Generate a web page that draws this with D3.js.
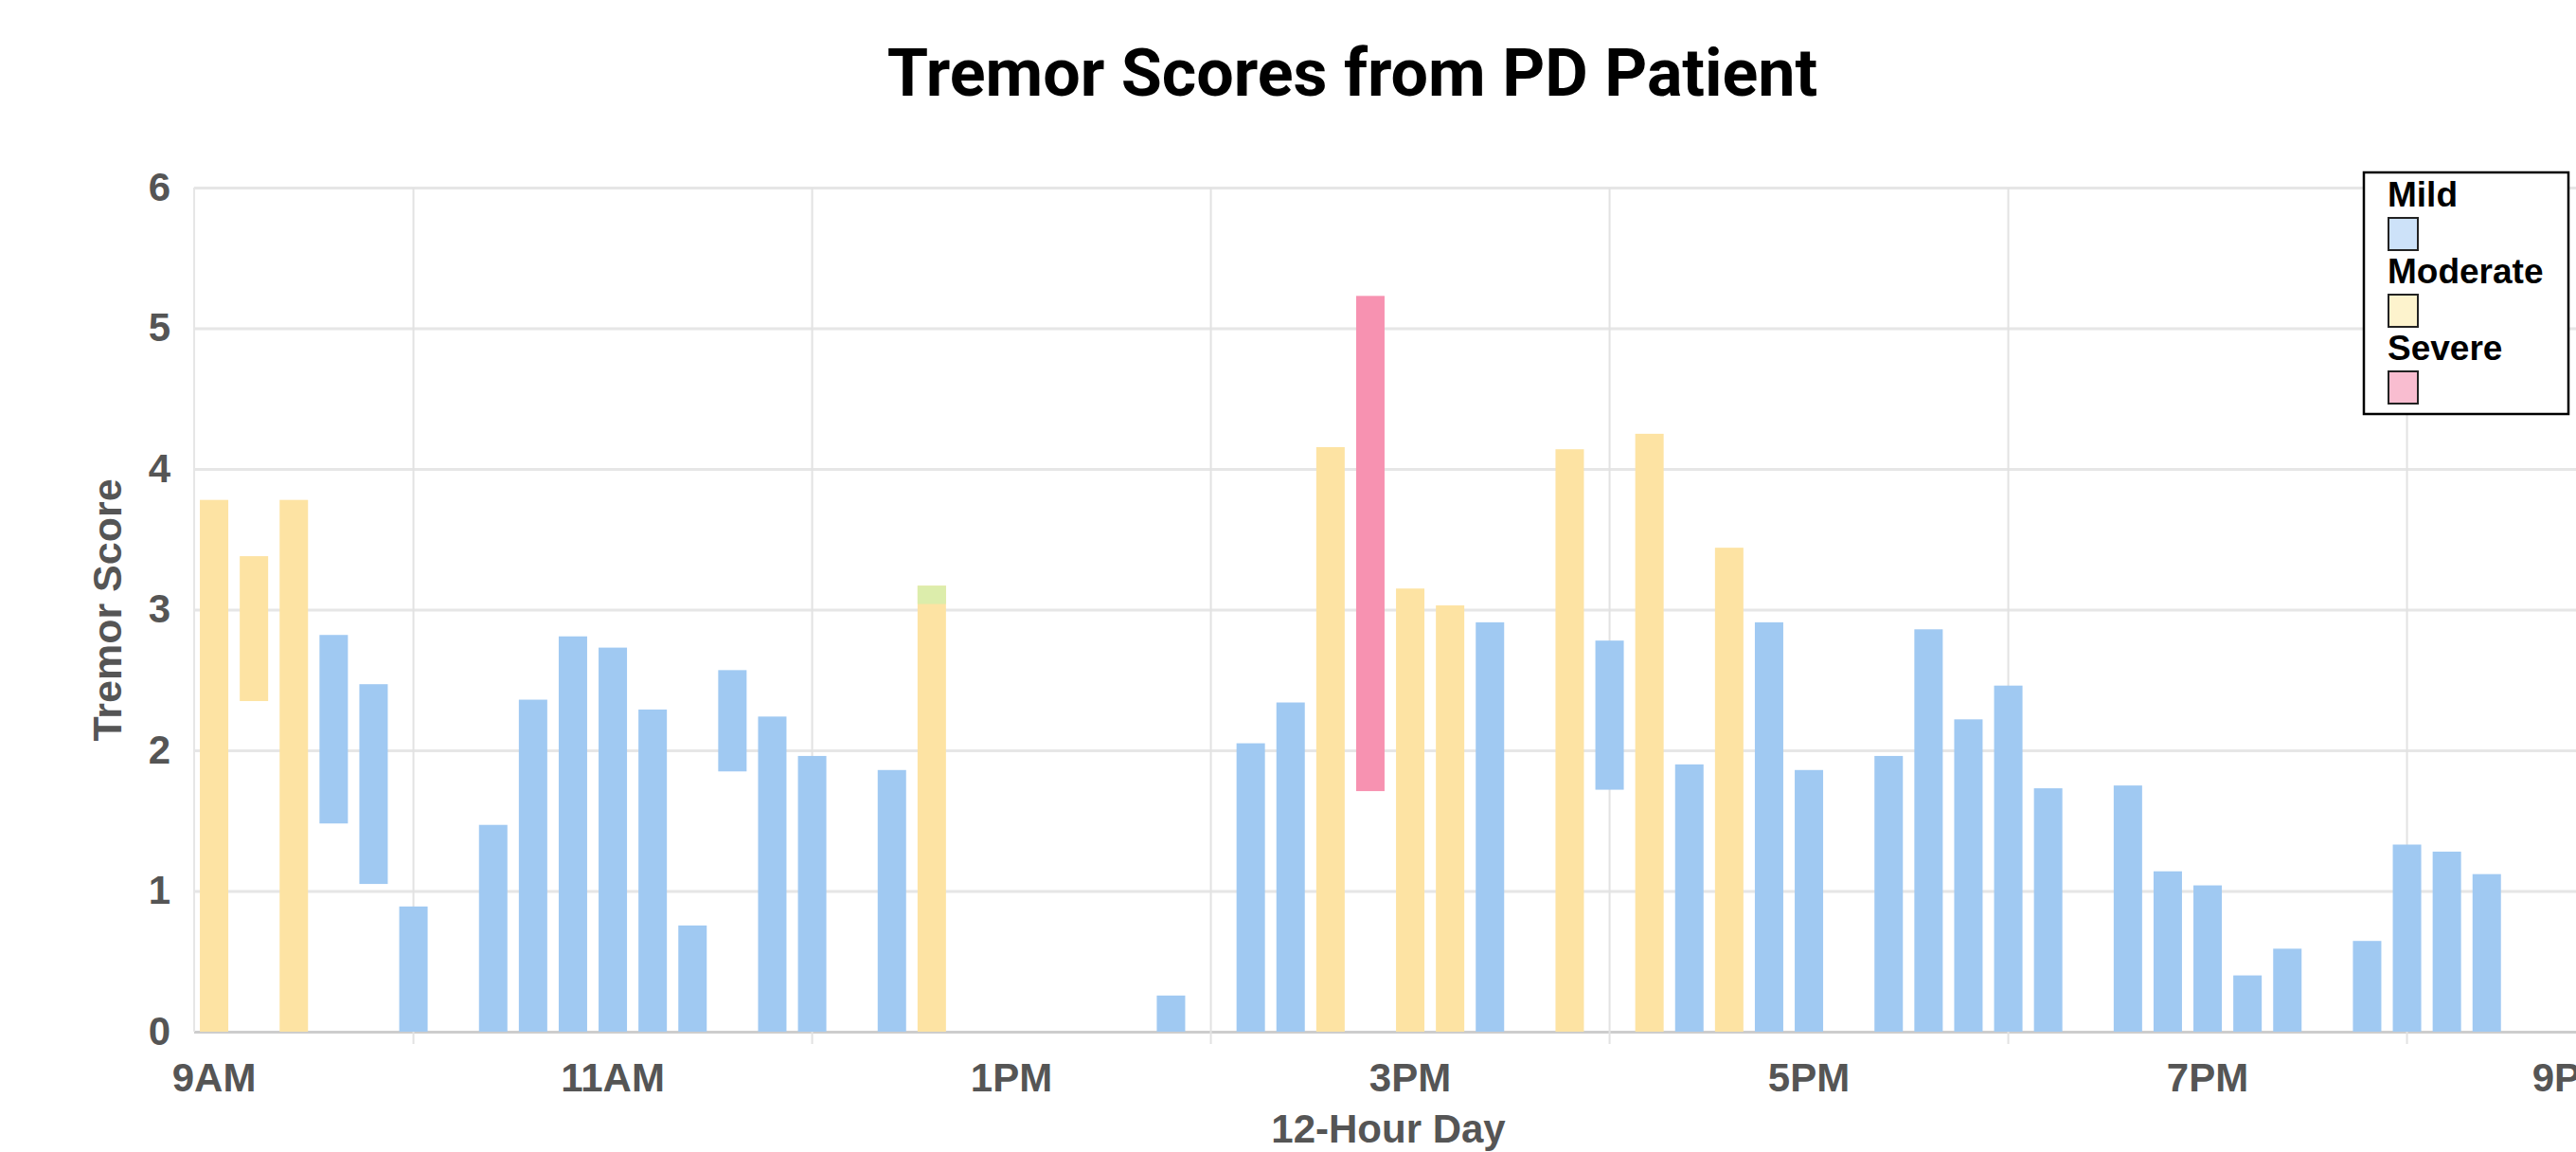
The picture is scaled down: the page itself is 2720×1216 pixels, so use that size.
<!DOCTYPE html>
<html>
<head>
<meta charset="utf-8">
<script src="https://cdn.jsdelivr.net/npm/d3@7/dist/d3.min.js"></script>
<style>
  body { margin: 0; background: #fff; overflow: hidden; }
</style>
</head>
<body>
<div id="chart"></div>
<script>
// readings every 12 minutes, each one a score range and a severity
var times = ["9:00", "9:12", "9:24", "9:36", "9:48", "10:00", "10:24", "10:36", "10:48", "11:00",
  "11:12", "11:24", "11:36", "11:48", "12:00", "12:24", "12:36", "13:48", "14:12", "14:24",
  "14:36", "14:48", "15:00", "15:12", "15:24", "15:48", "16:00", "16:12", "16:24", "16:36",
  "16:48", "17:00", "17:24", "17:36", "17:48", "18:00", "18:12", "18:36", "18:48", "19:00",
  "19:12", "19:24", "19:48", "20:00", "20:12", "20:24"];
var lows = [0, 2.35, 0, 1.48, 1.05, 0, 0, 0, 0, 0,
  0, 0, 1.85, 0, 0, 0, 0, 0, 0, 0,
  0, 1.71, 0, 0, 0, 0, 1.72, 0, 0, 0,
  0, 0, 0, 0, 0, 0, 0, 0, 0, 0,
  0, 0, 0, 0, 0, 0];
var highs = [3.78, 3.38, 3.78, 2.82, 2.47, 0.89, 1.47, 2.36, 2.81, 2.73,
  2.29, 0.755, 2.57, 2.24, 1.96, 1.86, 3.17, 0.257, 2.05, 2.34,
  4.155, 5.23, 3.15, 3.03, 2.91, 4.14, 2.78, 4.25, 1.90, 3.44,
  2.91, 1.86, 1.96, 2.86, 2.22, 2.46, 1.73, 1.75, 1.14, 1.04,
  0.40, 0.59, 0.645, 1.33, 1.28, 1.12];
var levels = ["Moderate", "Moderate", "Moderate", "Mild", "Mild", "Mild", "Mild", "Mild", "Mild", "Mild",
  "Mild", "Mild", "Mild", "Mild", "Mild", "Mild", "Moderate", "Mild", "Mild", "Mild",
  "Moderate", "Severe", "Moderate", "Moderate", "Mild", "Moderate", "Mild", "Moderate", "Mild", "Moderate",
  "Mild", "Mild", "Mild", "Mild", "Mild", "Mild", "Mild", "Mild", "Mild", "Mild",
  "Mild", "Mild", "Mild", "Mild", "Mild", "Mild"];

// the little greenish cap where two readings overlap
var overlapTimes = ["12:36"];
var overlapLows = [3.04];
var overlapHighs = [3.17];

var levelNames = ["Mild", "Moderate", "Severe"];
var levelColors = ["#a0c9f2", "#fde3a3", "#f792b1"];
var swatchColors = ["#cde2f9", "#fdf3cd", "#f9bdd0"];

var yTicks = [0, 1, 2, 3, 4, 5, 6];
var gridHours = [10, 12, 14, 16, 18, 20];
var labelHours = [9, 11, 13, 15, 17, 19, 21];
var tickLabels = ["9AM", "11AM", "1PM", "3PM", "5PM", "7PM", "9PM"];

var svgWidth = 2760;
var svgHeight = 1216;

var margin = {
  top: 198,
  right: 0,
  bottom: 127,
  left: 205
};

var width = svgWidth - margin.left - margin.right;
var height = svgHeight - margin.top - margin.bottom;

var pxPerHour = 210.5;
var barWidth = 30;

function toHours(t) {
  var p = t.split(":");
  return +p[0] + (+p[1]) / 60;
}

var bars = times.map(function (t, i) {
  return { h: toHours(t), lo: lows[i], hi: highs[i], level: levels[i] };
});
var overlaps = overlapTimes.map(function (t, i) {
  return { h: toHours(t), lo: overlapLows[i], hi: overlapHighs[i] };
});

var svg = d3.select("#chart")
  .append("svg")
  .attr("width", svgWidth)
  .attr("height", svgHeight);

var chartGroup = svg.append("g")
  .attr("transform", `translate(${margin.left}, ${margin.top})`);

var xScale = d3.scaleLinear()
  .domain([8.9, 8.9 + width / pxPerHour])
  .range([0, width]);

var yScale = d3.scaleLinear()
  .domain([0, 6])
  .range([height, 0]);

var color = d3.scaleOrdinal().domain(levelNames).range(levelColors);

// horizontal grid + y labels
var yAxis = chartGroup.append("g")
  .call(d3.axisLeft(yScale)
    .tickValues(yTicks)
    .tickFormat(d3.format("d"))
    .tickSize(-width)
    .tickPadding(25));
yAxis.select(".domain").remove();
yAxis.selectAll("line")
  .attr("stroke", d => d === 0 ? "#cdcdcd" : "#e6e6e6")
  .attr("stroke-width", 3);
yAxis.selectAll("text")
  .attr("fill", "#555")
  .style("font-family", "'Liberation Sans', Arial, sans-serif")
  .style("font-weight", "bold")
  .style("font-size", "42px");

// left edge of the plot
chartGroup.append("line")
  .attr("x1", 0).attr("x2", 0)
  .attr("y1", 0).attr("y2", height)
  .attr("stroke", "#e6e6e6")
  .attr("stroke-width", 2);

// vertical grid at even hours, with a small tick under the baseline
chartGroup.selectAll(".vgrid")
  .data(gridHours)
  .enter()
  .append("line")
  .attr("class", "vgrid")
  .attr("x1", d => xScale(d)).attr("x2", d => xScale(d))
  .attr("y1", 0).attr("y2", height + 13)
  .attr("stroke", "#e2e2e2")
  .attr("stroke-width", 2);

// bars
chartGroup.selectAll(".bar")
  .data(bars)
  .enter()
  .append("rect")
  .attr("class", "bar")
  .attr("x", d => xScale(d.h) - barWidth / 2)
  .attr("y", d => yScale(d.hi))
  .attr("width", barWidth)
  .attr("height", d => yScale(d.lo) - yScale(d.hi))
  .attr("fill", d => color(d.level));

chartGroup.selectAll(".overlap")
  .data(overlaps)
  .enter()
  .append("rect")
  .attr("class", "overlap")
  .attr("x", d => xScale(d.h) - barWidth / 2)
  .attr("y", d => yScale(d.hi))
  .attr("width", barWidth)
  .attr("height", d => yScale(d.lo) - yScale(d.hi))
  .attr("fill", "#dcedab");

// x labels at odd hours, the last one kept inside the svg
var xLabels = chartGroup.selectAll(".xlabel")
  .data(labelHours)
  .enter()
  .append("text")
  .attr("class", "xlabel")
  .attr("x", d => xScale(d))
  .attr("y", height + 63)
  .attr("text-anchor", "middle")
  .attr("fill", "#555")
  .style("font-family", "'Liberation Sans', Arial, sans-serif")
  .style("font-weight", "bold")
  .style("font-size", "42px")
  .text((d, i) => tickLabels[i]);

xLabels.each(function (d) {
  var w = this.getComputedTextLength();
  var maxX = width - w / 2;
  if (xScale(d) > maxX) d3.select(this).attr("x", maxX);
});

// title and axis titles
svg.append("text")
  .attr("x", 1428)
  .attr("y", 101)
  .attr("text-anchor", "middle")
  .attr("fill", "#000")
  .style("font-family", "Roboto, sans-serif")
  .style("font-weight", "bold")
  .style("font-size", "70px")
  .text("Tremor Scores from PD Patient");

svg.append("text")
  .attr("transform", "translate(128, 644) rotate(-90)")
  .attr("text-anchor", "middle")
  .attr("fill", "#555")
  .style("font-family", "'Liberation Sans', Arial, sans-serif")
  .style("font-weight", "bold")
  .style("font-size", "43px")
  .text("Tremor Score");

svg.append("text")
  .attr("x", 1466)
  .attr("y", 1206)
  .attr("text-anchor", "middle")
  .attr("fill", "#555")
  .style("font-family", "'Liberation Sans', Arial, sans-serif")
  .style("font-weight", "bold")
  .style("font-size", "42px")
  .text("12-Hour Day");

// legend
var legend = svg.append("g")
  .attr("transform", "translate(2496, 182)");

legend.append("rect")
  .attr("width", 216)
  .attr("height", 255)
  .attr("fill", "#fff")
  .attr("stroke", "#000")
  .attr("stroke-width", 2.5);

var entry = legend.selectAll(".entry")
  .data(levelNames)
  .enter()
  .append("g")
  .attr("class", "entry")
  .attr("transform", (d, i) => `translate(25, ${36 + i * 81})`);

entry.append("text")
  .attr("x", 0)
  .attr("y", 0)
  .attr("fill", "#000")
  .style("font-family", "'Liberation Sans', Arial, sans-serif")
  .style("font-weight", "bold")
  .style("font-size", "37px")
  .text(d => d);

entry.append("rect")
  .attr("x", 1)
  .attr("y", 12)
  .attr("width", 31)
  .attr("height", 34)
  .attr("fill", (d, i) => swatchColors[i])
  .attr("stroke", "#222")
  .attr("stroke-width", 2);
</script>
</body>
</html>
